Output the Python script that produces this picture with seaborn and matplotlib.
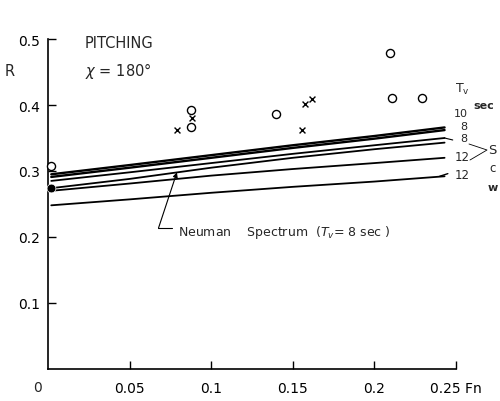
import numpy as np
import pandas as pd
import matplotlib
matplotlib.use("Agg")
import matplotlib.pyplot as plt
import seaborn as sns

# Froude number grid for the calculated curves
fn = [0.002, 0.05, 0.1, 0.15, 0.2, 0.243]

# R for each calculated curve (Tv in sec)
r_tv10 = [0.295, 0.309, 0.324, 0.339, 0.353, 0.366]
r_tv8a = [0.291, 0.305, 0.320, 0.335, 0.349, 0.362]
r_tv8b = [0.285, 0.298, 0.312, 0.326, 0.339, 0.350]
r_neuman = [0.274, 0.288, 0.305, 0.320, 0.333, 0.343]
r_tv12a = [0.270, 0.281, 0.293, 0.303, 0.312, 0.320]
r_tv12b = [0.248, 0.257, 0.267, 0.276, 0.284, 0.292]

# measured points
circle_fn = [0.002, 0.0876, 0.0876, 0.1396, 0.2096, 0.2106, 0.229]
circle_r = [0.308, 0.392, 0.367, 0.386, 0.479, 0.411, 0.410]
cross_fn = [0.079, 0.0885, 0.1557, 0.1577, 0.1618]
cross_r = [0.362, 0.380, 0.362, 0.402, 0.409]
dot_fn = [0.002]
dot_r = [0.274]

series = {
    "10": r_tv10,
    "8a": r_tv8a,
    "8b": r_tv8b,
    "neuman": r_neuman,
    "12a": r_tv12a,
    "12b": r_tv12b,
}
df = pd.concat(
    [pd.DataFrame({"Fn": fn, "R": vals, "curve": name}) for name, vals in series.items()],
    ignore_index=True,
)

sns.set_style("ticks")
plt.rcParams["font.family"] = ["DejaVu Sans"]

fig = plt.figure(figsize=(5, 4.02), dpi=100)
ax = fig.add_axes([48 / 500, 32 / 402, 408 / 500, 330 / 402])

thick = df[df["curve"].isin(["10", "8a"])]
thin = df[~df["curve"].isin(["10", "8a"])]
sns.lineplot(data=thick, x="Fn", y="R", units="curve", estimator=None,
             color="black", lw=1.7, ax=ax)
sns.lineplot(data=thin, x="Fn", y="R", units="curve", estimator=None,
             color="black", lw=1.3, ax=ax)

sns.scatterplot(x=circle_fn, y=circle_r, marker="o", s=34, facecolor="white",
                edgecolor="black", linewidth=1.0, ax=ax, clip_on=False, zorder=5)
sns.scatterplot(x=cross_fn, y=cross_r, marker="x", s=18, color="black",
                linewidth=1.0, ax=ax, zorder=5)
sns.scatterplot(x=dot_fn, y=dot_r, marker="o", s=40, color="black",
                ax=ax, clip_on=False, zorder=6)

ax.set_xlim(0, 0.25)
ax.set_ylim(0, 0.5)
ax.set_xticks([0.05, 0.1, 0.15, 0.2, 0.25])
ax.set_xticklabels(["0.05", "0.1", "0.15", "0.2", "0.25 Fn"])
ax.set_yticks([0.1, 0.2, 0.3, 0.4, 0.5])
ax.set_yticklabels(["0.1", "0.2", "0.3", "0.4", "0.5"])
ax.tick_params(direction="in", length=6, width=1, colors="black", labelsize=10)
ax.tick_params(axis="x", pad=9)
ax.tick_params(axis="y", pad=6)
ax.set_xlabel("")
ax.set_ylabel("")
sns.despine(ax=ax)
for side in ["left", "bottom"]:
    ax.spines[side].set_linewidth(1.2)
    ax.spines[side].set_color("black")

# Neuman leader
ax.annotate("", xy=(0.079, 0.298), xytext=(0.0677, 0.2135),
            arrowprops=dict(arrowstyle="-|>", lw=0.8, color="black",
                            mutation_scale=7, shrinkA=0, shrinkB=0))
ax.plot([0.0677, 0.0762], [0.2135, 0.2135], color="black", lw=0.8)
ax.text(0.0795, 0.2085, "Neuman    Spectrum  ($T_v$= 8 sec )", fontsize=9,
        va="center", ha="left")

# small leaders at the curve ends
ax.plot([0.243, 0.248], [0.350, 0.347], color="black", lw=0.8, clip_on=False)
ax.plot([0.240, 0.245], [0.292, 0.296], color="black", lw=1.0, clip_on=False)

# labels
fig.text(10 / 500, 1 - 71 / 402, "R", fontsize=10.5, ha="center", va="center")
fig.text(37 / 500, 1 - 388 / 402, "0", fontsize=10, ha="center", va="center")
fig.text(85 / 500, 1 - 43 / 402, "PITCHING", fontsize=10.5, ha="left", va="center")
fig.text(85 / 500, 1 - 71 / 402, "$\\chi$ = 180°", fontsize=10.5, ha="left", va="center")

fig.text(462 / 500, 1 - 89 / 402, "T$_{\\mathregular{v}}$", fontsize=9, ha="center", va="center")
fig.text(484 / 500, 1 - 106 / 402, "sec", fontsize=8, fontweight="bold", ha="center", va="center")
fig.text(461 / 500, 1 - 114 / 402, "10", fontsize=8, ha="center", va="center")
fig.text(464 / 500, 1 - 126.5 / 402, "8", fontsize=8, ha="center", va="center")
fig.text(464 / 500, 1 - 138.5 / 402, "8", fontsize=8, ha="center", va="center")
fig.text(462 / 500, 1 - 158 / 402, "12", fontsize=8.5, ha="center", va="center")
fig.text(462 / 500, 1 - 176 / 402, "12", fontsize=8.5, ha="center", va="center")
fig.text(488 / 500, 1 - 151 / 402, "S", fontsize=9.5, ha="left", va="center")
fig.text(489 / 500, 1 - 169 / 402, "c", fontsize=8.5, ha="left", va="center")
fig.text(488 / 500, 1 - 188 / 402, "w", fontsize=8, fontweight="bold", ha="left", va="center")
fig.add_artist(plt.Line2D([469 / 500, 487 / 500, 470 / 500],
                          [1 - 145 / 402, 1 - 151 / 402, 1 - 161 / 402],
                          color="black", lw=0.6))

fig.savefig("out.png", dpi=100)
